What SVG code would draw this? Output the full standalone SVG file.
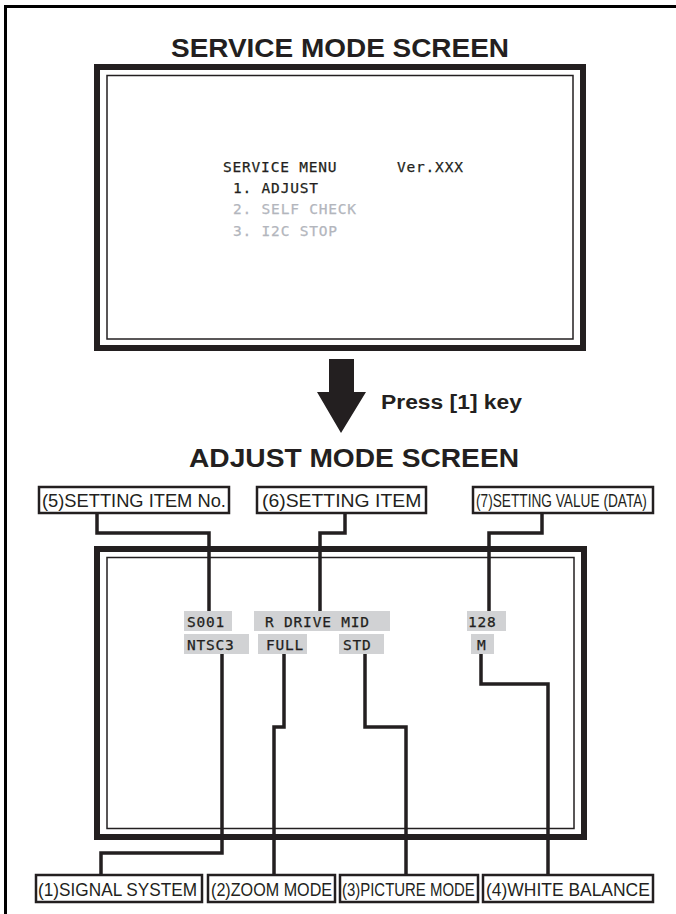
<svg xmlns="http://www.w3.org/2000/svg" width="676" height="914" viewBox="0 0 676 914">
<style>
.title{font-family:"Liberation Sans",Arial,sans-serif;font-weight:bold;font-size:26px;fill:#231f20}
.press{font-family:"Liberation Sans",Arial,sans-serif;font-weight:bold;font-size:20px;fill:#231f20}
.mono{font-family:"DejaVu Sans Mono","Liberation Mono",monospace;font-size:14.5px;letter-spacing:0.8px;fill:#231f20;stroke:#231f20;stroke-width:0.25}
.dim{fill:#b3b6bd;stroke:#b3b6bd}
.frame{fill:none;stroke:#231f20;stroke-width:6}
.inner{fill:none;stroke:#231f20;stroke-width:1.5}
.lbox{fill:#fff;stroke:#231f20;stroke-width:2.5}
.ltxt{font-family:"Liberation Sans",Arial,sans-serif;font-size:19px;fill:#231f20}
.bar{fill:#d1d2d4}
.conn{fill:none;stroke:#231f20;stroke-width:3.5;stroke-linejoin:miter}
.page{fill:none;stroke:#000;stroke-width:3}
</style>
<path class="page" d="M5.5,914 V6.5 H676"/>
<text class="title" x="340" y="57" text-anchor="middle" textLength="338" lengthAdjust="spacingAndGlyphs">SERVICE MODE SCREEN</text>
<g id="service-screen">
<rect class="frame" x="97" y="67" width="486" height="281"/>
<rect class="inner" x="107" y="75.5" width="466" height="263.5"/>
<text class="mono" x="223" y="172">SERVICE MENU</text>
<text class="mono" x="397" y="172">Ver.XXX</text>
<text class="mono" x="233" y="193">1. ADJUST</text>
<text class="mono dim" x="233" y="214">2. SELF CHECK</text>
<text class="mono dim" x="233" y="236">3. I2C STOP</text>
</g>
<g id="press-arrow">
<polygon points="329,359 354,359 354,392 366,392 341,433 317,392 329,392" fill="#231f20"/>
<text class="press" x="381" y="409" textLength="141" lengthAdjust="spacingAndGlyphs">Press [1] key</text>
</g>
<text class="title" x="354" y="467" text-anchor="middle" textLength="330" lengthAdjust="spacingAndGlyphs">ADJUST MODE SCREEN</text>
<g id="adjust-screen">
<rect class="frame" x="97" y="549" width="487" height="288"/>
<rect class="inner" x="107" y="557.5" width="467" height="271"/>
<rect class="bar" x="184" y="611" width="48" height="20"/>
<rect class="bar" x="254" y="611" width="136" height="20"/>
<rect class="bar" x="467" y="611" width="39" height="20"/>
<rect class="bar" x="184" y="634" width="65" height="20"/>
<rect class="bar" x="258" y="634" width="49" height="20"/>
<rect class="bar" x="339" y="634" width="45" height="20"/>
<rect class="bar" x="471" y="634" width="23" height="20"/>
<text class="mono" x="187" y="627">S001</text>
<text class="mono" x="265" y="627">R DRIVE MID</text>
<text class="mono" x="468" y="627">128</text>
<text class="mono" x="187" y="650">NTSC3</text>
<text class="mono" x="266" y="650">FULL</text>
<text class="mono" x="343" y="650">STD</text>
<text class="mono" x="477" y="650">M</text>
</g>
<g id="connectors">
<path class="conn" d="M97,513 V533 H209 V611"/>
<path class="conn" d="M345,513 V533 H320 V611"/>
<path class="conn" d="M542,513 V533 H489 V611"/>
<path class="conn" d="M222,654 V853 H101 V875"/>
<path class="conn" d="M284,654 V727 H274 V875"/>
<path class="conn" d="M365,654 V727 H406 V875"/>
<path class="conn" d="M481,654 V684 H548 V875"/>
</g>
<g id="label-5"><rect class="lbox" x="39" y="487" width="190" height="26"/><text class="ltxt" transform="translate(42,507) scale(0.963,1)">(5)SETTING ITEM No.</text></g>
<g id="label-6"><rect class="lbox" x="257" y="487" width="169" height="26"/><text class="ltxt" transform="translate(262,507) scale(1.02,1)">(6)SETTING ITEM</text></g>
<g id="label-7"><rect class="lbox" x="473" y="487" width="180" height="26"/><text class="ltxt" transform="translate(476,507) scale(0.72,1)">(7)SETTING VALUE (DATA)</text></g>
<g id="label-1"><rect class="lbox" x="36" y="875" width="166" height="27"/><text class="ltxt" transform="translate(38,896) scale(0.907,1)">(1)SIGNAL SYSTEM</text></g>
<g id="label-2"><rect class="lbox" x="208" y="875" width="127" height="27"/><text class="ltxt" transform="translate(211,896) scale(0.85,1)">(2)ZOOM MODE</text></g>
<g id="label-3"><rect class="lbox" x="340" y="875" width="138" height="27"/><text class="ltxt" transform="translate(342,896) scale(0.787,1)">(3)PICTURE MODE</text></g>
<g id="label-4"><rect class="lbox" x="483" y="875" width="170" height="27"/><text class="ltxt" transform="translate(486,896) scale(0.919,1)">(4)WHITE BALANCE</text></g>
</svg>
